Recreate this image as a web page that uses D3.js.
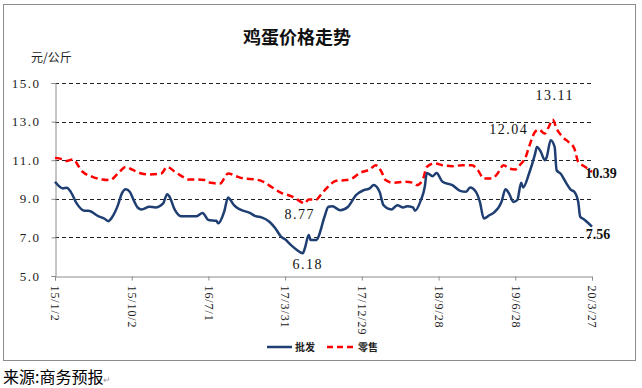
<!DOCTYPE html>
<html>
<head>
  <meta charset="utf-8">
  <title>鸡蛋价格走势</title>
  <script src="https://d3js.org/d3.v7.min.js"></script>
  <style>
    html, body { margin: 0; padding: 0; background: #fff; overflow: hidden; }
    svg { display: block; }
  </style>
</head>
<body>
  <div id="chart"></div>
  <script>
    // weeks counted from 15/1/2 (weekly data)
    const tickWeeks = [0, 39, 78, 117, 156, 195, 234, 273];
    const tickLabels = ['15/1/2', '15/10/2', '16/7/1', '17/3/31', '17/12/29', '18/9/28', '19/6/28', '20/3/27'];
    const yTicks = [5, 7, 9, 11, 13, 15];

    // 批发 (wholesale)
    const wsWeek = [0, 4, 6, 8, 11, 15, 17, 22, 25, 27, 29, 32, 34, 36, 38, 40, 42, 44, 48, 51,
      55, 57, 58, 61, 64, 68, 72, 75, 78, 82, 83, 86, 88, 89, 91, 94, 99, 102, 105, 109,
      112, 115, 117, 120, 123, 126, 127, 129, 130, 133, 134, 137, 139, 141, 145, 149, 153, 157, 160, 162,
      165, 167, 171, 174, 177, 179, 182, 183, 186, 188, 189, 192, 194, 197, 202, 206, 209, 211, 214, 216,
      218, 221, 223, 227, 229, 231, 233, 235, 237, 238, 241, 244, 245, 247, 249, 250, 252, 254, 255, 257,
      260, 262, 264, 266, 267, 269, 273];
    const wsVal = [9.88, 9.54, 9.57, 9.36, 8.76, 8.38, 8.38, 8.10, 7.98, 7.84, 8.04, 8.67, 9.28, 9.49, 9.36, 8.93, 8.55, 8.45, 8.59, 8.55,
      8.76, 9.24, 9.14, 8.41, 8.10, 8.10, 8.10, 8.27, 7.90, 7.86, 7.73, 8.33, 9.07, 8.97, 8.67, 8.45, 8.27, 8.10, 8.04, 7.81,
      7.47, 7.03, 6.90, 6.60, 6.35, 6.18, 6.43, 7.12, 6.86, 6.86, 7.05, 8.07, 8.59, 8.62, 8.41, 8.59, 9.19, 9.45, 9.54, 9.71,
      9.36, 8.67, 8.45, 8.67, 8.55, 8.62, 8.55, 8.38, 8.93, 9.62, 10.34, 10.17, 10.34, 9.88, 9.71, 9.41, 9.36, 9.59, 9.36, 8.84,
      7.98, 8.16, 8.27, 8.84, 9.49, 9.24, 8.84, 8.93, 9.83, 9.59, 10.31, 11.30, 11.69, 11.43, 11.00, 11.17, 12.04, 11.69, 10.48, 10.31,
      9.80, 9.49, 9.36, 8.84, 8.07, 7.93, 7.56];

    // 零售 (retail)
    const rtWeek = [0, 4, 6, 9, 14, 19, 24, 28, 32, 36, 39, 44, 48, 54, 57, 61, 65, 68, 71, 76,
      79, 84, 86, 88, 92, 96, 102, 106, 110, 115, 120, 123, 127, 129, 133, 135, 138, 143, 148, 151,
      155, 160, 163, 166, 168, 172, 178, 182, 184, 187, 189, 193, 197, 202, 207, 212, 215, 218, 222, 225,
      228, 231, 234, 237, 239, 241, 244, 246, 249, 251, 253, 255, 258, 261, 264, 266, 269, 273];
    const rtVal = [11.12, 11.04, 10.96, 11.04, 10.40, 10.14, 10.00, 9.97, 10.31, 10.65, 10.52, 10.31, 10.26, 10.31, 10.65, 10.40, 10.14, 10.00, 10.00, 9.97,
      9.83, 9.79, 10.05, 10.31, 10.17, 10.05, 10.00, 9.88, 9.62, 9.31, 9.14, 8.97, 8.77, 8.97, 8.97, 9.19, 9.54, 9.93, 9.97, 10.05,
      10.34, 10.52, 10.74, 10.40, 9.97, 9.83, 9.88, 9.83, 9.71, 10.00, 10.65, 10.83, 10.74, 10.69, 10.74, 10.74, 10.48, 10.05, 10.05, 10.31,
      10.74, 10.57, 10.52, 10.83, 11.09, 11.69, 12.46, 12.59, 12.38, 12.72, 13.11, 12.64, 12.21, 11.95, 11.61, 10.91, 10.69, 10.39];

    const W = 642, H = 388;
    const svg = d3.select('#chart').append('svg')
      .attr('width', W).attr('height', H);

    svg.append('rect').attr('width', W).attr('height', H).attr('fill', '#fff');

    // outer frame
    svg.append('rect')
      .attr('x', 3.5).attr('y', 4.5).attr('width', 632).attr('height', 356)
      .attr('fill', 'none').attr('stroke', '#8c8c8c').attr('stroke-width', 1);

    const x = d3.scaleLinear().domain([0, 273]).range([55, 592]);
    const y = d3.scaleLinear().domain([5, 15]).range([276, 83]);

    const serif = '"Liberation Serif", "DejaVu Serif", serif';
    const cjk = '"Noto Sans CJK SC", sans-serif';

    // title
    svg.append('text')
      .attr('x', 297).attr('y', 44)
      .attr('text-anchor', 'middle')
      .attr('font-family', cjk).attr('font-weight', 'bold').attr('font-size', 18)
      .attr('fill', '#111')
      .text('鸡蛋价格走势');

    svg.append('text')
      .attr('x', 31).attr('y', 62)
      .attr('font-family', cjk).attr('font-size', 12)
      .attr('fill', '#222')
      .text('元/公斤');

    // grid lines
    svg.append('g').selectAll('line')
      .data(yTicks.filter(d => d > 5))
      .enter().append('line')
      .attr('x1', x(0)).attr('x2', x(273))
      .attr('y1', d => Math.round(y(d)) + 0.5).attr('y2', d => Math.round(y(d)) + 0.5)
      .attr('stroke', '#222').attr('stroke-width', 1)
      .attr('stroke-dasharray', '4,3');

    // y axis
    const yAxis = svg.append('g')
      .attr('transform', `translate(${x(0) + 0.5},0)`)
      .call(d3.axisLeft(y).tickValues(yTicks).tickSize(4).tickFormat(d3.format('.1f')));
    yAxis.select('.domain').attr('stroke', '#8c8c8c');
    yAxis.selectAll('.tick line').attr('stroke', '#8c8c8c');
    yAxis.selectAll('.tick text')
      .attr('x', -15)
      .attr('font-family', serif).attr('font-size', 13).attr('fill', '#222')
      .attr('letter-spacing', 1.5);

    // x axis
    const xAxis = svg.append('g')
      .attr('transform', `translate(0,${Math.round(y(5)) + 0.5})`)
      .call(d3.axisBottom(x).tickValues(tickWeeks).tickSize(4).tickFormat((d, i) => tickLabels[i]));
    xAxis.select('.domain').attr('stroke', '#8c8c8c');
    xAxis.selectAll('.tick line').attr('stroke', '#8c8c8c');
    xAxis.selectAll('.tick text')
      .attr('font-family', serif).attr('font-size', 12).attr('fill', '#222')
      .attr('letter-spacing', 0.9)
      .attr('text-anchor', 'start')
      .attr('transform', 'rotate(90)')
      .attr('x', 9).attr('y', 0).attr('dy', '0.35em');

    const line = d3.line()
      .x(d => x(d[0]))
      .y(d => y(d[1]))
      .curve(d3.curveMonotoneX);

    const retail = rtWeek.map((w, i) => [w, rtVal[i]]);
    const wholesale = wsWeek.map((w, i) => [w, wsVal[i]]);

    svg.append('path')
      .datum(retail)
      .attr('d', line)
      .attr('fill', 'none')
      .attr('stroke', '#ff0000').attr('stroke-width', 2.5)
      .attr('stroke-dasharray', '7,4');

    svg.append('path')
      .datum(wholesale)
      .attr('d', line)
      .attr('fill', 'none')
      .attr('stroke', '#1f3f73').attr('stroke-width', 2.5)
      .attr('stroke-linejoin', 'round');

    // data labels
    const labels = [
      { w: 253, v: 13.11, t: '13.11', dx: 2, dy: -19, bold: false },
      { w: 252, v: 12.04, t: '12.04', dx: -42, dy: -6, bold: false },
      { w: 127, v: 8.77, t: '8.77', dx: -5, dy: 16, bold: false },
      { w: 126, v: 6.18, t: '6.18', dx: 5, dy: 16, bold: false },
      { w: 273, v: 10.39, t: '10.39', dx: 9, dy: 6, bold: true },
      { w: 273, v: 7.56, t: '7.56', dx: 6, dy: 12, bold: true }
    ];
    svg.append('g').selectAll('text')
      .data(labels)
      .enter().append('text')
      .attr('x', d => x(d.w) + d.dx)
      .attr('y', d => y(d.v) + d.dy)
      .attr('text-anchor', 'middle')
      .attr('font-family', serif)
      .attr('font-size', 14)
      .attr('letter-spacing', d => d.bold ? 0 : 1.5)
      .attr('font-weight', d => d.bold ? 'bold' : 'normal')
      .attr('fill', '#111')
      .text(d => d.t);

    // legend
    const lg = svg.append('g').attr('transform', 'translate(267,347)');
    lg.append('line').attr('x1', 0).attr('x2', 25).attr('y1', 0).attr('y2', 0)
      .attr('stroke', '#1f3f73').attr('stroke-width', 2.5);
    lg.append('text').attr('x', 28).attr('y', 4)
      .attr('font-family', cjk).attr('font-weight', 'bold').attr('font-size', 10).attr('fill', '#222')
      .text('批发');
    lg.append('line').attr('x1', 60).attr('x2', 88).attr('y1', 0).attr('y2', 0)
      .attr('stroke', '#ff0000').attr('stroke-width', 2.5).attr('stroke-dasharray', '6,4');
    lg.append('text').attr('x', 91).attr('y', 4)
      .attr('font-family', cjk).attr('font-weight', 'bold').attr('font-size', 10).attr('fill', '#222')
      .text('零售');

    // source note
    const src = svg.append('text')
      .attr('x', 3).attr('y', 383)
      .attr('font-family', cjk).attr('font-size', 16).attr('fill', '#000');
    src.append('tspan').text('来源:商务预报');
    src.append('tspan').attr('font-size', 9).attr('fill', '#999').text('↵');
  </script>
</body>
</html>
